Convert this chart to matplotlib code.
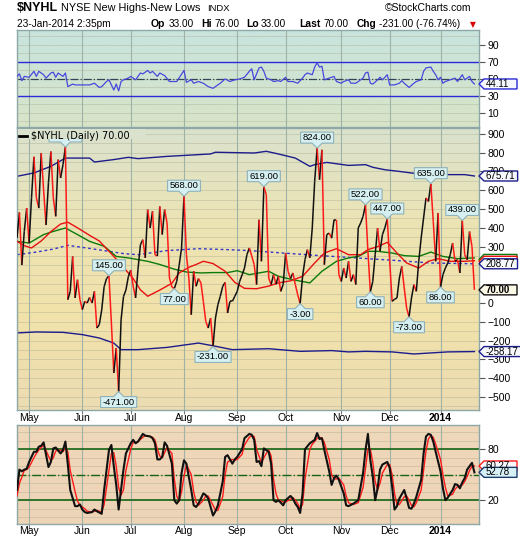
import numpy as np
import matplotlib
matplotlib.use("Agg")
import matplotlib.pyplot as plt
from matplotlib.collections import LineCollection
from matplotlib.lines import Line2D
from matplotlib.patches import Polygon, Rectangle

W, H = 520, 540

# trading days, index 0 = 24-Apr-2013, last index 189 = 23-Jan-2014
month_idx = [5, 27, 47, 69, 91, 111, 134, 154, 175]
month_lbl = ['May', 'Jun', 'Jul', 'Aug', 'Sep', 'Oct', 'Nov', 'Dec', '2014']

# $NYHL daily close
nyhl = [346, 482, 202, 380, 505, 319, 560, 778, 560, 505,
        798, 600, 415, 640, 806, 560, 461, 763, 665, 736,
        830, 18, 62, 248, 27, 124, 18, -35, 9, 0,
        30, 0, 62, -133, -115, -37, 87, 130, 145, -106,
        -372, -240, -471, -90, 34, 69, 140, 175, 90, 27,
        180, 310, 337, 240, 497, 399, 488, 257, 250, 514,
        364, 497, 426, 133, 85, 77, 115, 200, 293, 568,
        257, 133, -62, 169, 89, 130, 107, 9, -97, -133,
        -80, -231, -80, -9, 36, 89, 110, -53, 9, 9,
        36, 62, 115, 150, 186, 257, 293, 250, 204, 98,
        443, 222, 619, 576, 133, 98, 151, 100, 142, 62,
        100, 266, 169, 130, 160, 98, 44, -3, 142, 231,
        284, 240, 399, 647, 824, 656, 815, 204, 364, 372,
        345, 443, 443, 151, 115, 186, 133, 222, 115, 151,
        98, 399, 426, 461, 522, 275, 60, 115, 257, 399,
        275, 364, 400, 447, 222, 9, 20, 27, 133, 195,
        80, -27, -73, 27, 98, 62, 222, 346, 452, 559,
        540, 635, 434, 222, 479, 86, 151, 186, 213, 257,
        319, 222, 230, 160, 439, 257, 230, 380, 300, 70]

peak_idx = [38, 69, 102, 124, 144, 153, 171, 184]
trough_idx = [42, 65, 81, 117, 146, 162, 175]
hidden_peak = 20  # its label sits under the legend

# overlays
red_x = [0, 3, 6, 10, 14, 18, 21, 25, 30, 34, 40, 44, 48, 51, 54, 59, 64, 67, 71, 74, 77, 81, 86, 90,
         94, 99, 104, 108, 113, 118, 123, 127, 132, 137, 142, 145, 149, 153, 157, 161, 166, 170, 174,
         179, 185, 189]
red_y = [328, 305, 293, 330, 380, 420, 430, 400, 360, 330, 248, 190, 130, 70, 36, 69, 105, 160, 190, 205,
         222, 210, 169, 110, 78, 76, 90, 107, 118, 142, 213, 266, 289, 257, 257, 284, 300, 323, 266, 213,
         186, 222, 236, 222, 222, 225]

green_x = [0, 5, 11, 15, 20, 25, 30, 36, 41, 46, 50, 54, 59, 65, 70, 76, 81, 87, 91, 96, 104, 108, 114,
           121, 126, 132, 137, 141, 145, 149, 155, 160, 166, 171, 176, 182, 189]
green_y = [328, 319, 364, 381, 399, 364, 328, 302, 248, 240, 231, 222, 205, 180, 165, 160, 162, 162, 172,
           151, 169, 142, 124, 107, 169, 222, 240, 248, 275, 275, 266, 252, 248, 271, 248, 236, 240]

dash_x = [0, 8, 15, 21, 27, 36, 44, 50, 62, 75, 87, 96, 110, 123, 137, 145, 158, 171, 189]
dash_y = [257, 271, 287, 307, 296, 279, 263, 257, 279, 289, 284, 279, 266, 254, 243, 236, 225, 213, 208.77]

up_x = [0, 7, 14, 20, 30, 32, 40, 46, 50, 62, 80, 82, 98, 103, 108, 115, 121, 123, 128, 137, 144, 147,
        152, 158, 164, 171, 185, 189]
up_y = [674, 692, 727, 771, 771, 750, 763, 775, 768, 780, 793, 802, 798, 807, 793, 771, 727, 736, 748,
        732, 736, 722, 709, 700, 690, 683, 683, 675.71]

lo_x = [0, 8, 19, 27, 34, 40, 43, 50, 62, 75, 82, 89, 104, 117, 130, 137, 144, 155, 164, 178, 189]
lo_y = [-159, -154, -156, -168, -186, -213, -248, -248, -236, -213, -230, -248, -243, -257, -253, -260,
        -257, -260, -271, -260, -258.17]

# RSI panel
rsi_x = [0, 1, 2, 3, 5, 7, 8, 9, 11, 12, 14, 15, 16, 17, 19, 20, 21, 23, 24, 26, 28, 30, 32, 34, 35,
         37, 38, 39, 40, 41, 42, 43, 44, 46, 47, 49, 51, 52, 54, 55, 56, 58, 59, 61, 63, 64, 66, 69,
         70, 72, 73, 75, 77, 79, 81, 82, 84, 86, 88, 90, 92, 94, 96, 97, 98, 100, 101, 102, 103, 105,
         106, 108, 109, 111, 112, 114, 116, 118, 119, 120, 122, 123, 124, 125, 126, 127, 129, 131, 132,
         134, 135, 137, 138, 140, 142, 143, 144, 145, 146, 147, 149, 150, 151, 153, 154, 156, 158, 159,
         160, 162, 164, 165, 167, 168, 169, 171, 172, 173, 174, 175, 176, 177, 178, 180, 181, 182, 184,
         185, 186, 187, 188, 189]
rsi_y = [53, 56, 48, 53, 52, 59, 53, 59, 55, 51, 57, 58, 52, 57, 53, 57, 41, 44, 43, 43, 43, 43, 45,
         40, 41, 47, 49, 43, 37, 44, 36, 47, 49, 51, 53, 49, 57, 56, 60, 57, 59, 53, 57, 54, 47, 47,
         47, 60, 46, 49, 45, 47, 45, 41, 39, 41, 45, 50, 47, 49, 50, 52, 59, 62, 49, 63, 64, 59, 51,
         49, 47, 48, 47, 52, 47, 47, 45, 51, 55, 57, 55, 64, 69, 64, 65, 49, 51, 53, 47, 45, 47, 49,
         45, 45, 49, 51, 57, 58, 45, 44, 49, 52, 49, 55, 43, 43, 45, 48, 45, 40, 45, 47, 49, 59, 63,
         64, 59, 55, 49, 52, 45, 47, 48, 50, 51, 47, 55, 49, 51, 53, 47, 44.11]

# stochastic panel: %K (black) and %D (red)
sto_x = [0, 1, 2, 3, 4, 5, 7, 8, 9, 10, 11, 13, 14, 15, 16, 18, 19, 20, 21, 22, 24, 25, 26, 27, 28,
         29, 31, 32, 33, 35, 36, 38, 39, 40, 41, 42, 43, 44, 45, 47, 48, 49, 50, 52, 53, 55, 56, 57,
         58, 59, 60, 61, 62, 64, 65, 66, 67, 68, 69, 70, 72, 73, 74, 75, 77, 78, 79, 81, 82, 83, 85,
         86, 87, 89, 90, 91, 93, 94, 96, 97, 98, 99, 100, 101, 102, 103, 104, 105, 106, 107, 108, 110,
         111, 113, 114, 115, 116, 117, 118, 119, 121, 122, 123, 124, 125, 126, 127, 129, 130, 131, 132,
         133, 135, 136, 137, 139, 141, 143, 144, 145, 146, 147, 148, 149, 150, 151, 153, 154, 155, 156,
         157, 158, 160, 161, 162, 163, 164, 165, 167, 168, 169, 170, 171, 172, 173, 175, 176, 177, 178,
         180, 181, 182, 183, 184, 185, 186, 187, 188, 189]
sto_k = [32, 56, 54, 56, 57, 65, 77, 77, 83, 84, 88, 59, 65, 81, 82, 75, 79, 89, 62, 32, 13, 13, 15, 9,
         6, 5, 6, 9, 7, 4, 32, 79, 85, 60, 38, 9, 32, 56, 75, 87, 91, 87, 89, 98, 96, 95, 93, 87, 68,
         68, 71, 88, 84, 63, 20, 16, 20, 52, 67, 63, 32, 14, 12, 16, 28, 26, 22, 2, 7, 14, 42, 71, 73,
         63, 68, 71, 80, 93, 98, 97, 91, 65, 66, 60, 81, 79, 77, 63, 20, 18, 20, 14, 20, 25, 22, 16, 12,
         5, 28, 80, 87, 89, 91, 99, 92, 93, 79, 54, 38, 46, 49, 44, 28, 14, 13, 16, 20, 52, 79, 98, 67,
         48, 20, 34, 56, 62, 65, 58, 36, 9, 13, 22, 32, 22, 11, 10, 16, 24, 44, 75, 95, 98, 97, 89, 77,
         54, 34, 20, 23, 32, 39, 38, 34, 41, 46, 56, 60, 64, 52.78]
sto_d = [25, 40, 47, 55, 56, 59, 70, 75, 79, 82, 85, 72, 66, 70, 78, 79, 77, 82, 77, 55, 30, 19, 14,
         12, 10, 7, 6, 7, 8, 6, 15, 55, 75, 76, 60, 35, 26, 32, 55, 80, 88, 88, 89, 94, 96, 95, 94, 91,
         80, 72, 70, 76, 82, 75, 45, 25, 19, 30, 48, 62, 50, 30, 18, 14, 20, 25, 25, 14, 8, 8, 24, 50,
         65, 68, 67, 68, 74, 85, 94, 96, 95, 80, 72, 64, 70, 75, 79, 72, 45, 28, 20, 18, 18, 21, 23, 20,
         16, 10, 15, 45, 80, 86, 89, 93, 94, 93, 88, 68, 50, 45, 45, 46, 38, 25, 17, 15, 17, 35, 58, 80,
         80, 65, 42, 32, 40, 52, 62, 62, 50, 28, 15, 15, 24, 25, 20, 14, 12, 17, 32, 55, 78, 92, 96, 94,
         86, 68, 50, 35, 25, 27, 33, 36, 37, 38, 42, 48, 55, 60, 60.27]

plt.rcParams['font.family'] = ['Liberation Sans', 'DejaVu Sans']
fig = plt.figure(figsize=(W / 100, H / 100), dpi=100)


def panel(top, bottom):
    return fig.add_axes([17 / W, 1 - bottom / H, 462 / W, (bottom - top) / H])


def paint(ax, colors):
    # vertical gradient, colors listed top to bottom
    cols = np.array(colors) / 255.0
    t = np.linspace(0, 1, 200)
    pos = np.linspace(0, 1, len(cols))
    img = np.stack([np.interp(t, pos, cols[:, k]) for k in range(3)], axis=1)
    ax.imshow(img[:, None, :], extent=(0, 1, 0, 1), transform=ax.transAxes,
              aspect='auto', zorder=0)


ax_rsi = panel(30, 127)
ax_main = panel(128, 410)
ax_sto = panel(425, 524)

paint(ax_rsi, [(200, 228, 222), (216, 228, 200)])
paint(ax_main, [(218, 226, 206), (236, 228, 180), (242, 226, 170), (236, 220, 178)])
paint(ax_sto, [(240, 216, 186), (238, 212, 182)])

limits = {ax_rsi: (-6.5, 107.6), ax_main: (-569, 931), ax_sto: (-8, 108.5)}
grid_step = {ax_rsi: 10, ax_main: 50, ax_sto: 10}
for ax, (lo, hi) in limits.items():
    ax.set_xlim(0, 190.9)
    ax.set_ylim(lo, hi)
    for s in ax.spines.values():
        s.set_color('#8ea8a8')
        s.set_linewidth(1)
    ax.yaxis.tick_right()
    ax.tick_params(axis='y', length=4, width=0.8, color='#555555', labelsize=7.5, pad=2)
    ax.set_xticks(month_idx)
    ax.tick_params(axis='x', length=3, width=0.8, color='#777777', labelbottom=False)
    step = grid_step[ax]
    for yv in np.arange(np.ceil(lo / step) * step, hi, step):
        ax.axhline(yv, color='#a8aa90', lw=0.6, alpha=0.45, zorder=1)
    for m in month_idx:
        ax.axvline(m, color='#9fb2a6', lw=0.8, zorder=1)

# labels that sit fully under the value tags are left out (hidden in the original too)
ax_rsi.set_yticks([10, 30, 50, 70, 90])
ax_main.set_yticks([-500, -400, -300, -200, -100, 0, 300, 400, 500, 600, 700, 800, 900])
ax_sto.set_yticks([20, 80])

# RSI
ax_rsi.axhline(70, color='#2a2ad8', lw=1, zorder=2)
ax_rsi.axhline(30, color='#2a2ad8', lw=1, zorder=2)
ax_rsi.axhline(50, color='#334455', lw=0.9, ls='-.', zorder=2)
ax_rsi.plot(rsi_x, rsi_y, color='#4848dd', lw=0.9, zorder=3)

# main panel overlays
ax_main.plot(up_x, up_y, color='#1c1c8c', lw=1, zorder=2)
ax_main.plot(lo_x, lo_y, color='#1c1c8c', lw=1, zorder=2)
ax_main.plot(dash_x, dash_y, color='#3434c8', lw=1, ls=(0, (2, 2)), zorder=2)
ax_main.plot(green_x, green_y, color='#0a7a0a', lw=1, zorder=3)
ax_main.plot(red_x, red_y, color='#e81010', lw=1, zorder=3)

idx = np.arange(len(nyhl))
pts = np.column_stack([idx, nyhl])
segs = np.stack([pts[:-1], pts[1:]], axis=1)
seg_col = ['#111111' if b >= a else '#ff1a1a' for a, b in zip(nyhl[:-1], nyhl[1:])]
ax_main.add_collection(LineCollection(segs, colors=seg_col, linewidths=1.1, zorder=4))

# stochastic
ax_sto.axhline(80, color='#146414', lw=1.2, zorder=2)
ax_sto.axhline(20, color='#146414', lw=1.2, zorder=2)
ax_sto.axhline(50, color='#146414', lw=1, ls='-.', zorder=2)
ax_sto.plot(sto_x, sto_d, color='#ff1a1a', lw=1, zorder=3)
ax_sto.plot(sto_x, sto_k, color='#111111', lw=1.5, zorder=4)

renderer = fig.canvas.get_renderer()


def callout(i, up, text=True):
    v = nyhl[i]
    x0, y0 = ax_main.transData.transform((i, v))
    t = fig.text(x0 / W, 0, '%.2f' % v, fontsize=6.8, ha='center', va='center', zorder=6)
    w = t.get_window_extent(renderer).width + 4
    d = 1 if up else -1
    yb, yt = y0 + 5 * d, y0 + 16 * d
    shape = [(x0, y0), (x0 + 5, yb), (x0 + w / 2, yb), (x0 + w / 2, yt),
             (x0 - w / 2, yt), (x0 - w / 2, yb), (x0 - 5, yb)]
    fig.add_artist(Polygon(np.array(shape) / [W, H], closed=True, transform=fig.transFigure,
                           fc='#d6eff0', ec='#8fb2ba', lw=0.8, zorder=5))
    if text:
        t.set_position((x0 / W, (yb + yt) / 2 / H))
    else:
        t.remove()


for i in peak_idx:
    callout(i, True)
for i in trough_idx:
    callout(i, False)
callout(hidden_peak, True, text=False)

# legend strip covers the top of the first label, as in the original
fig.add_artist(Rectangle((18 / W, 1 - 139 / H), 128 / W, 10 / H, transform=fig.transFigure,
                         fc=(218 / 255, 226 / 255, 206 / 255), ec='none', zorder=7))
fig.add_artist(Line2D([19 / W, 27 / W], [1 - 136 / H] * 2, color='black', lw=2, zorder=8))
fig.text(31 / W, 1 - 135.5 / H, '\\$NYHL (Daily) 70.00', family=['DejaVu Sans'],
         fontsize=7, va='center', zorder=8)


def tag(ax, v, text, ec, fc='#f6f8fc', weight='normal', z=5):
    xr = ax.transAxes.transform((1, 0))[0]
    y0 = ax.transData.transform((0, v))[1]
    x1, h = xr + 5, 5
    w = 33
    if text:
        t = fig.text((x1 + 2) / W, y0 / H, text, ha='left', va='center', fontsize=7,
                     weight=weight, zorder=z + 0.1)
        w = max(w, t.get_window_extent(renderer).width + 4)
    x2 = x1 + w
    shape = [(xr, y0), (x1, y0 + h), (x2, y0 + h), (x2, y0 - h), (x1, y0 - h)]
    fig.add_artist(Polygon(np.array(shape) / [W, H], closed=True, transform=fig.transFigure,
                           fc=fc, ec=ec, lw=1, zorder=z))


tag(ax_rsi, rsi_y[-1], '%.2f' % rsi_y[-1], '#2a2ad8')
tag(ax_main, up_y[-1], '%.2f' % up_y[-1], '#1c1c8c')
tag(ax_main, 232, '', '#0a7a0a', z=5)
tag(ax_main, 222, '', '#e81010', z=5.2)
tag(ax_main, dash_y[-1], '%.2f' % dash_y[-1], '#1c1c8c', z=5.4)
tag(ax_main, nyhl[-1], '%.2f' % nyhl[-1], '#111111', fc='#fbf8e6', weight='bold', z=5.6)
tag(ax_main, lo_y[-1], '%.2f' % lo_y[-1], '#1c1c8c')
tag(ax_sto, sto_d[-1], '%.2f' % sto_d[-1], '#ff1a1a', z=5)
tag(ax_sto, sto_k[-1], '%.2f' % sto_k[-1], '#1c3c6c', fc='#d6f0f6', z=5.4)

# month labels under the main panel and under the stochastic panel
for m, lbl in zip(month_idx, month_lbl):
    xf = ax_main.transData.transform((m, 0))[0] / W
    for yy in (418, 531):
        fig.text(xf, 1 - yy / H, lbl, ha='center', va='center', fontsize=7.5,
                 weight='bold' if lbl == '2014' else 'normal')


def hdr(x, y, s, size, weight='normal', **kw):
    fig.text(x / W, 1 - y / H, s, fontsize=size, weight=weight, ha='left', va='center', **kw)


hdr(17, 8, '\\$NYHL', 9, 'bold')
hdr(61, 8, 'NYSE New Highs-New Lows', 7.8)
hdr(207, 8.5, 'INDX', 6.8)
hdr(385, 8, '\u00a9StockCharts.com', 7.5)
hdr(17, 24, '23-Jan-2014 2:35pm', 7.3)
hdr(151, 24, 'Op', 7.5, 'bold')
hdr(169, 24, '33.00', 7.2)
hdr(201, 24, 'Hi', 7.5, 'bold')
hdr(215, 24, '76.00', 7.2)
hdr(246, 24, 'Lo', 7.5, 'bold')
hdr(261, 24, '33.00', 7.2)
hdr(299, 24, 'Last', 7.5, 'bold')
hdr(324, 24, '70.00', 7.2)
hdr(357, 24, 'Chg', 7.3, 'bold')
hdr(379, 24, '-231.00 (-76.74%)', 7.2)
hdr(470, 24.5, '\u25bc', 5.5, color='#dd0000', family=['DejaVu Sans'])

fig.savefig('out.png', dpi=100)
